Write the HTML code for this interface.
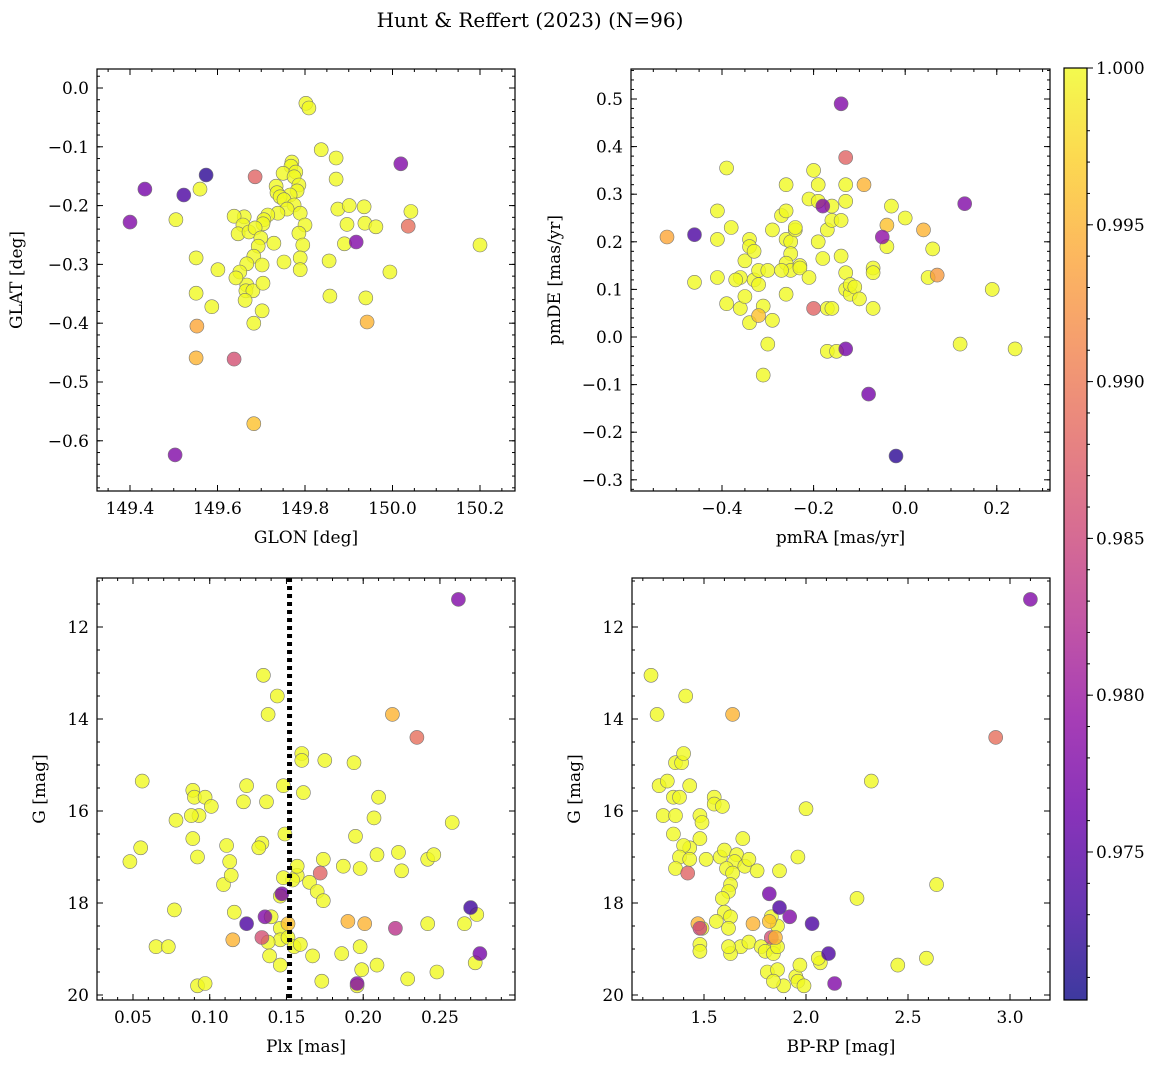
<!DOCTYPE html>
<html><head><meta charset="utf-8">
<style>
html,body{margin:0;padding:0;background:#fff;}
svg text{font-family:"DejaVu Serif","Liberation Serif",serif;fill:#000;}
</style></head>
<body>
<svg id="chart" width="1161" height="1068" viewBox="0 0 1161 1068" xmlns="http://www.w3.org/2000/svg">
<defs>
<linearGradient id="plasma" x1="0" y1="1" x2="0" y2="0">
<stop offset="0" stop-color="#0d0887"/><stop offset="0.1" stop-color="#41049d"/><stop offset="0.2" stop-color="#6a00a8"/><stop offset="0.3" stop-color="#8f0da4"/><stop offset="0.4" stop-color="#b12a90"/><stop offset="0.5" stop-color="#cc4778"/><stop offset="0.6" stop-color="#e16462"/><stop offset="0.7" stop-color="#f2844b"/><stop offset="0.8" stop-color="#fca636"/><stop offset="0.9" stop-color="#fcce25"/><stop offset="1" stop-color="#f0f921"/>
</linearGradient>
</defs>
<text x="530" y="27" font-size="20" text-anchor="middle">Hunt &amp; Reffert (2023) (N=96)</text>
</svg>
<script>
// Panel 1: GLON / GLAT
const p1x=[149.802,149.809,149.837,149.871,149.770,149.768,149.750,149.779,149.775,149.734,149.736,149.786,149.782,149.766,149.743,149.752,149.775,149.759,149.738,149.715,149.706,149.704,149.661,149.638,149.658,149.647,149.672,149.686,149.699,149.729,149.693,149.683,149.702,149.667,149.651,149.667,149.665,149.681,149.663,149.704,149.702,149.642,149.601,149.587,149.551,149.551,149.505,149.560,149.789,149.800,149.786,149.795,149.875,149.901,149.896,150.042,149.855,149.789,149.789,149.752,149.935,149.937,149.962,149.994,150.200,149.939,149.857,149.683,149.871,149.890,
149.400,149.434,149.523,149.574,149.686,149.917,150.019,150.036,149.553,149.551,149.638,149.942,149.683,149.503];
const p1y=[-0.026,-0.034,-0.105,-0.119,-0.126,-0.133,-0.145,-0.143,-0.151,-0.167,-0.178,-0.165,-0.175,-0.182,-0.185,-0.190,-0.199,-0.206,-0.213,-0.216,-0.224,-0.231,-0.219,-0.218,-0.233,-0.248,-0.245,-0.238,-0.255,-0.264,-0.269,-0.286,-0.301,-0.299,-0.313,-0.335,-0.345,-0.345,-0.361,-0.332,-0.379,-0.323,-0.309,-0.372,-0.289,-0.349,-0.224,-0.172,-0.213,-0.233,-0.247,-0.267,-0.206,-0.200,-0.232,-0.210,-0.294,-0.289,-0.309,-0.296,-0.202,-0.230,-0.236,-0.313,-0.267,-0.357,-0.354,-0.400,-0.155,-0.265,
-0.228,-0.172,-0.182,-0.148,-0.151,-0.262,-0.129,-0.235,-0.405,-0.459,-0.461,-0.398,-0.571,-0.624];
const p1c=[1,1,1,1,1,1,1,1,1,1,1,1,1,1,1,1,1,1,1,1,1,1,1,1,1,1,1,1,1,1,1,1,1,1,1,1,1,1,1,1,1,1,1,1,1,1,1,1,1,1,1,1,1,1,1,1,1,1,1,1,1,1,1,1,1,1,1,1,1,1,
0.978,0.977,0.974,0.972,0.988,0.978,0.978,0.989,0.994,0.995,0.986,0.995,0.996,0.978];
// Panel 2: pmRA / pmDE
const p2x=[-0.39,-0.41,-0.38,-0.41,-0.46,-0.41,-0.39,-0.36,-0.37,-0.36,-0.35,-0.34,-0.35,-0.34,-0.34,-0.33,-0.33,-0.32,-0.32,-0.30,-0.31,-0.29,-0.30,-0.31,-0.29,-0.27,-0.26,-0.26,-0.26,-0.25,-0.24,-0.24,-0.25,-0.26,-0.25,-0.27,-0.23,-0.23,-0.21,-0.26,-0.20,-0.19,-0.21,-0.19,-0.17,-0.19,-0.18,-0.16,-0.16,-0.14,-0.13,-0.13,-0.14,-0.13,-0.13,-0.12,-0.12,-0.11,-0.10,-0.17,-0.16,-0.17,-0.15,-0.07,-0.07,-0.07,-0.04,-0.03,0.00,0.06,0.05,0.19,0.12,0.24,
-0.52,-0.46,-0.14,-0.13,-0.09,-0.04,-0.05,0.04,0.07,0.13,-0.18,-0.20,-0.13,-0.08,-0.02,-0.32];
const p2y=[0.355,0.265,0.23,0.205,0.115,0.125,0.07,0.125,0.12,0.06,0.085,0.03,0.16,0.205,0.19,0.18,0.12,0.11,0.14,0.14,0.065,0.035,-0.015,-0.08,0.225,0.255,0.265,0.32,0.205,0.2,0.225,0.23,0.175,0.155,0.14,0.14,0.15,0.145,0.125,0.09,0.35,0.32,0.29,0.285,0.225,0.2,0.165,0.275,0.245,0.245,0.32,0.285,0.17,0.135,0.1,0.09,0.11,0.105,0.08,0.06,0.06,-0.03,-0.03,0.145,0.135,0.06,0.19,0.275,0.25,0.185,0.125,0.1,-0.015,-0.025,
0.21,0.215,0.49,0.377,0.32,0.235,0.21,0.225,0.13,0.28,0.275,0.06,-0.025,-0.12,-0.25,0.045];
const p2c=[1,1,1,1,1,1,1,1,1,1,1,1,1,1,1,1,1,1,1,1,1,1,1,1,1,1,1,1,1,1,1,1,1,1,1,1,1,1,1,1,1,1,1,1,1,1,1,1,1,1,1,1,1,1,1,1,1,1,1,1,1,1,1,1,1,1,1,1,1,1,1,1,1,1,
0.994,0.974,0.978,0.988,0.995,0.996,0.979,0.995,0.993,0.978,0.978,0.988,0.977,0.977,0.972,0.996];
// Panel 3: Plx / G
const p3x=[0.135,0.144,0.138,0.056,0.089,0.090,0.097,0.093,0.088,0.078,0.089,0.055,0.048,0.092,0.111,0.113,0.109,0.114,0.116,0.077,0.065,0.073,0.092,0.097,0.101,0.122,0.124,0.137,0.134,0.132,0.149,0.148,0.160,0.160,0.161,0.175,0.194,0.195,0.207,0.210,0.223,0.209,0.225,0.242,0.246,0.258,0.174,0.198,0.187,0.157,0.157,0.154,0.165,0.170,0.174,0.148,0.146,0.140,0.146,0.146,0.151,0.138,0.139,0.146,0.155,0.159,0.167,0.173,0.186,0.198,0.199,0.209,0.196,0.229,0.248,0.242,0.266,0.274,0.273,
0.262,0.219,0.235,0.172,0.147,0.136,0.124,0.134,0.115,0.151,0.190,0.201,0.221,0.270,0.276,0.196];
const p3y=[13.05,13.5,13.9,15.35,15.55,15.7,15.7,16.1,16.1,16.2,16.6,16.8,17.1,17.0,16.75,17.1,17.6,17.4,18.2,18.15,18.95,18.95,19.8,19.75,15.9,15.8,15.45,15.8,16.7,16.8,16.5,15.45,14.75,14.9,15.6,14.9,14.95,16.55,16.15,15.7,16.9,16.95,17.3,17.05,16.95,16.25,17.05,17.25,17.2,17.4,17.2,17.5,17.55,17.75,17.95,17.45,17.85,18.3,18.55,18.8,18.75,18.85,19.15,19.35,18.95,18.9,19.15,19.7,19.1,18.95,19.45,19.35,19.8,19.65,19.5,18.45,18.45,18.25,19.3,
11.4,13.9,14.4,17.35,17.8,18.3,18.45,18.75,18.8,18.45,18.4,18.45,18.55,18.1,19.1,19.75];
const p3c=[1,1,1,1,1,1,1,1,1,1,1,1,1,1,1,1,1,1,1,1,1,1,1,1,1,1,1,1,1,1,1,1,1,1,1,1,1,1,1,1,1,1,1,1,1,1,1,1,1,1,1,1,1,1,1,1,1,1,1,1,1,1,1,1,1,1,1,1,1,1,1,1,1,1,1,1,1,1,1,
0.978,0.995,0.989,0.988,0.977,0.978,0.974,0.986,0.995,0.996,0.995,0.995,0.983,0.973,0.977,0.978];
const plxCut=0.152;
// Panel 4: BP-RP / G
const p4x=[1.24,1.41,1.27,1.28,1.32,1.36,1.39,1.40,1.35,1.38,1.43,1.55,1.55,1.59,1.30,1.35,1.36,1.48,1.49,1.48,1.43,1.40,1.38,1.43,1.36,1.51,1.58,1.60,1.66,1.65,1.61,1.64,1.70,1.69,1.72,1.76,1.63,1.62,1.59,1.60,1.63,1.56,1.49,1.48,1.48,1.62,1.68,1.72,1.63,1.62,1.78,1.84,1.80,1.84,1.86,1.83,1.86,1.81,1.86,1.89,1.84,1.95,1.97,1.96,1.99,2.07,2.06,1.87,1.96,2.00,2.25,2.32,2.45,2.59,2.64,
3.10,1.64,2.93,1.42,1.82,1.92,1.87,1.47,1.48,1.74,1.82,1.83,2.03,2.11,2.14,1.85];
const p4y=[13.05,13.5,13.9,15.45,15.35,14.95,14.95,14.75,15.7,15.7,15.45,15.7,15.85,15.9,16.1,16.5,16.1,16.1,16.25,16.6,16.8,16.75,17.0,17.05,17.25,17.05,17.0,16.85,16.95,17.1,17.25,17.35,17.2,16.6,17.05,17.3,17.6,17.75,17.9,18.2,18.3,18.4,18.55,18.9,19.05,18.55,18.95,18.85,19.1,18.95,18.95,18.95,19.05,19.1,18.5,18.3,18.95,19.5,19.45,19.8,19.7,19.6,19.35,19.7,19.8,19.3,19.2,17.3,17.0,15.95,17.9,15.35,19.35,19.2,17.6,
11.4,13.9,14.4,17.35,17.8,18.3,18.1,18.45,18.55,18.45,18.4,18.75,18.45,19.1,19.75,18.75];
const p4c=[1,1,1,1,1,1,1,1,1,1,1,1,1,1,1,1,1,1,1,1,1,1,1,1,1,1,1,1,1,1,1,1,1,1,1,1,1,1,1,1,1,1,1,1,1,1,1,1,1,1,1,1,1,1,1,1,1,1,1,1,1,1,1,1,1,1,1,1,1,1,1,1,1,1,1,
0.978,0.995,0.989,0.988,0.977,0.978,0.974,0.995,0.985,0.995,0.996,0.986,0.974,0.974,0.978,0.995];
const cbTicks=[1.000,0.995,0.990,0.985,0.980,0.975];
const cMin=0.97028, cMax=1.0;

const NS='http://www.w3.org/2000/svg';
const svg=document.getElementById('chart');
function mk(tag,attrs,parent){const e=document.createElementNS(NS,tag);for(const k in attrs)e.setAttribute(k,attrs[k]);(parent||svg).appendChild(e);return e;}
const stops=[[13,8,135],[65,4,157],[106,0,168],[143,13,164],[177,42,144],[204,71,120],[225,100,98],[242,132,75],[252,166,54],[252,206,37],[240,249,33]];
function cmap(v){let t=(v-cMin)/(cMax-cMin);t=Math.max(0,Math.min(1,t))*10;const i=Math.min(9,Math.floor(t)),f=t-i;const a=stops[i],b=stops[i+1];return 'rgb('+a.map((c,k)=>Math.round(c+(b[k]-c)*f)).join(',')+')';}
function fmt(v,d){let s=v.toFixed(d);return s.replace('-','\u2212');}

function panel(cfg){
  const {L,T,R,B,xmin,xmax,ymin,ymax,invY,xs,ys,cs,xTicks,yTicks,xMinorStep,yMinorStep,xd,yd,xlabel,ylabel,name}=cfg;
  const sx=v=>L+(v-xmin)/(xmax-xmin)*(R-L);
  const sy=v=>invY?T+(v-ymin)/(ymax-ymin)*(B-T):B-(v-ymin)/(ymax-ymin)*(B-T);
  const g=mk('g',{});
  
  
  const pts=mk('g',{},g);
  
  
  for(let i=0;i<xs.length;i++){
    const c=mk('circle',{cx:sx(xs[i]).toFixed(1),cy:sy(ys[i]).toFixed(1),r:7,fill:cmap(cs[i]),'fill-opacity':0.8,stroke:'#777','stroke-width':0.6},pts);
    
    
  }
  if(cfg.after)cfg.after(g,sx,sy);
  const frame=mk('rect',{x:L,y:T,width:R-L,height:B-T,fill:'none',stroke:'#000','stroke-width':1.2},g);
  
  
  const tk=mk('g',{stroke:'#000','stroke-width':1},g);
  
  
  for(let v=Math.ceil(xmin/xMinorStep)*xMinorStep;v<=xmax;v+=xMinorStep){const x=sx(v);mk('line',{x1:x,x2:x,y1:B,y2:B-3},tk);mk('line',{x1:x,x2:x,y1:T,y2:T+3},tk);}
  for(let v=Math.ceil(Math.min(ymin,ymax)/yMinorStep)*yMinorStep;v<=Math.max(ymin,ymax);v+=yMinorStep){const y=sy(v);mk('line',{x1:L,x2:L+3,y1:y,y2:y},tk);mk('line',{x1:R,x2:R-3,y1:y,y2:y},tk);}
  xTicks.forEach(v=>{const x=sx(v);mk('line',{x1:x,x2:x,y1:B,y2:B-6},tk);mk('line',{x1:x,x2:x,y1:T,y2:T+6},tk);
    const t=mk('text',{x:x,y:B+23,'font-size':17,'text-anchor':'middle'},g);t.textContent=fmt(v,xd);
    });
  yTicks.forEach(v=>{const y=sy(v);mk('line',{x1:L,x2:L+6,y1:y,y2:y},tk);mk('line',{x1:R,x2:R-6,y1:y,y2:y},tk);
    const t=mk('text',{x:L-8,y:y+6,'font-size':17,'text-anchor':'end'},g);t.textContent=fmt(v,yd);
    });
  const xl=mk('text',{x:(L+R)/2,y:B+52,'font-size':17,'text-anchor':'middle'},g);xl.textContent=xlabel;
  
  const yl=mk('text',{x:0,y:0,'font-size':17,'text-anchor':'middle',transform:'translate('+cfg.ylx+','+(T+B)/2+') rotate(-90)'},g);yl.textContent=ylabel;
  
}

panel({name:'glon-glat-panel',L:97,T:69,R:515,B:491,xmin:149.3246,xmax:150.28,ymin:-0.6854,ymax:0.0323,xs:p1x,ys:p1y,cs:p1c,
 xTicks:[149.4,149.6,149.8,150.0,150.2],yTicks:[0,-0.1,-0.2,-0.3,-0.4,-0.5,-0.6],xMinorStep:0.05,yMinorStep:0.02,xd:1,yd:1,xlabel:'GLON [deg]',ylabel:'GLAT [deg]',ylx:22});
panel({name:'proper-motion-panel',L:631,T:69,R:1050,B:491,xmin:-0.5987,xmax:0.3162,ymin:-0.3235,ymax:0.563,xs:p2x,ys:p2y,cs:p2c,
 xTicks:[-0.4,-0.2,0.0,0.2],yTicks:[0.5,0.4,0.3,0.2,0.1,0,-0.1,-0.2,-0.3],xMinorStep:0.05,yMinorStep:0.02,xd:1,yd:1,xlabel:'pmRA [mas/yr]',ylabel:'pmDE [mas/yr]',ylx:560});
panel({name:'parallax-magnitude-panel',L:97,T:578,R:515,B:1000,xmin:0.02655,xmax:0.2989,ymin:10.935,ymax:20.109,invY:true,xs:p3x,ys:p3y,cs:p3c,
 xTicks:[0.05,0.10,0.15,0.20,0.25],yTicks:[12,14,16,18,20],xMinorStep:0.01,yMinorStep:0.5,xd:2,yd:0,xlabel:'Plx [mas]',ylabel:'G [mag]',ylx:45,
 after:(g,sx,sy)=>{const l=mk('line',{x1:sx(plxCut),x2:sx(plxCut),y1:578,y2:1000,stroke:'#000','stroke-width':5,'stroke-dasharray':'4,4'},g);
  }});
panel({name:'color-magnitude-panel',L:632,T:578,R:1050,B:1000,xmin:1.147,xmax:3.196,ymin:10.935,ymax:20.109,invY:true,xs:p4x,ys:p4y,cs:p4c,
 xTicks:[1.5,2.0,2.5,3.0],yTicks:[12,14,16,18,20],xMinorStep:0.1,yMinorStep:0.5,xd:1,yd:0,xlabel:'BP-RP [mag]',ylabel:'G [mag]',ylx:580});

const cb=mk('g',{});


const cbT=68,cbB=1000,cbL=1064,cbR=1087;
const bar=mk('rect',{x:cbL,y:cbT,width:cbR-cbL,height:cbB-cbT,fill:'url(#plasma)','fill-opacity':0.8,stroke:'#000','stroke-width':1.2},cb);


const cy=v=>cbB-(v-cMin)/(cMax-cMin)*(cbB-cbT);
for(let v=0.971;v<=1.0001;v+=0.001){const y=cy(v);mk('line',{x1:cbR,x2:cbR+3,y1:y,y2:y,stroke:'#000'},cb);}
cbTicks.forEach(v=>{const y=cy(v);mk('line',{x1:cbR,x2:cbR+6,y1:y,y2:y,stroke:'#000'},cb);
 const t=mk('text',{x:cbR+9,y:y+6,'font-size':17},cb);t.textContent=v.toFixed(3);
 });
</script>
</body></html>
